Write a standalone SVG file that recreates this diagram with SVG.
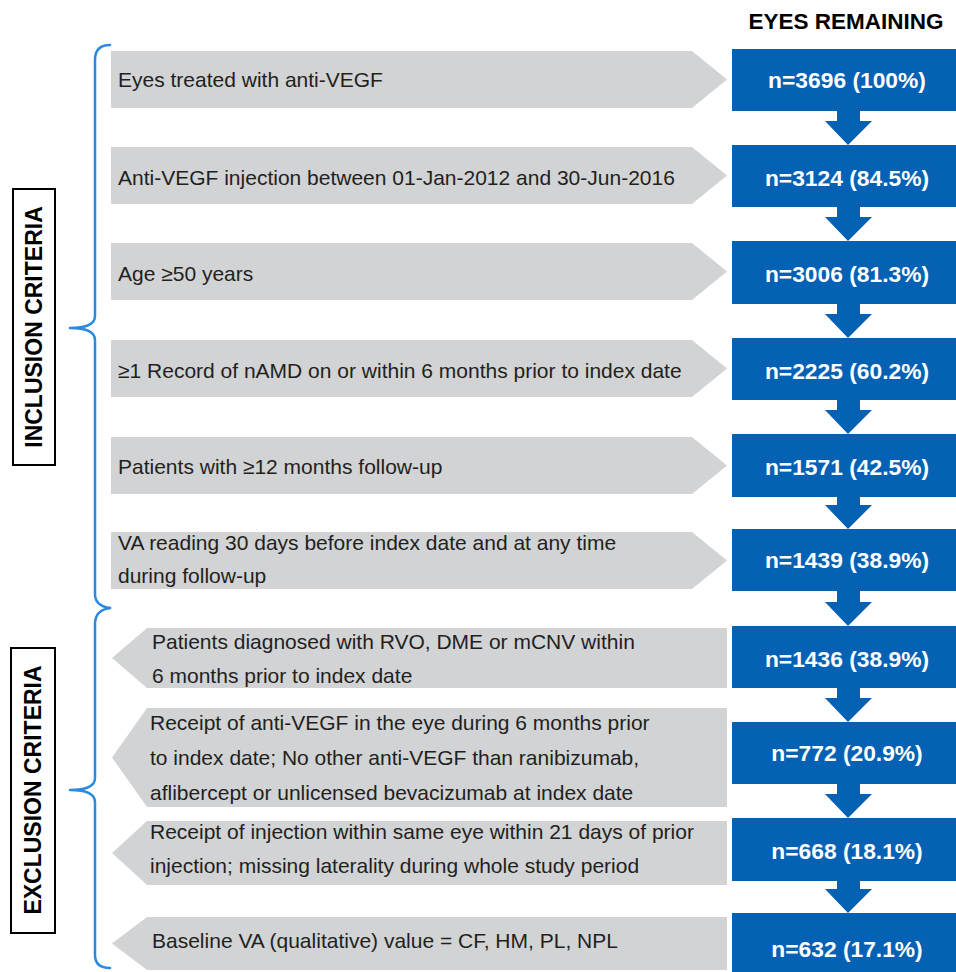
<svg xmlns="http://www.w3.org/2000/svg" width="956" height="972" viewBox="0 0 956 972">
<defs>
<style>
.g{fill:#d1d3d4}
.b{fill:#0561b3}
.t{font-family:"Liberation Sans",Arial,sans-serif;font-size:21px;fill:#231f20}
.n{font-family:"Liberation Sans",Arial,sans-serif;font-size:22.8px;font-weight:bold;fill:#ffffff;text-anchor:middle}
.h{font-family:"Liberation Sans",Arial,sans-serif;font-size:22.5px;font-weight:bold;fill:#000000;text-anchor:middle}
.lab{font-family:"Liberation Sans",Arial,sans-serif;font-size:23px;font-weight:bold;fill:#000000;text-anchor:middle}
.box{fill:#ffffff;stroke:#000000;stroke-width:2}
.br{fill:none;stroke:#2a8ae0;stroke-width:2.5;stroke-linejoin:round;stroke-linecap:round}
.ar{fill:#0561b3}
</style>
</defs>
<rect width="956" height="972" fill="#ffffff"/>
<text class="h" x="846" y="29">EYES REMAINING</text>

<g id="label-inclusion">
<rect class="box" x="13" y="189" width="42" height="276"/>
<text class="lab" transform="translate(42,327) rotate(-90)">INCLUSION CRITERIA</text>
</g>
<g id="label-exclusion">
<rect class="box" x="11" y="648" width="44" height="285"/>
<text class="lab" transform="translate(41,790) rotate(-90)">EXCLUSION CRITERIA</text>
</g>
<g id="braces">
<path class="br" d="M110,45 Q95,45 95,60 L95,316 Q95,328 70,328 Q95,328 95,340 L95,594 Q95,606 110,608"/>
<path class="br" d="M110,608 Q95,610 95,624 L95,778 Q95,790 70,790 Q95,790 95,802 L95,955 Q95,968 110,968"/>
</g>

<g id="inc1"><polygon class="g" points="111,51 692,51 727,79.5 692,108 111,108"/><text class="t" x="118" y="87">Eyes treated with anti-VEGF</text></g>
<g id="inc2"><polygon class="g" points="111,147 692,147 727,175.5 692,204 111,204"/><text class="t" x="118" y="185">Anti-VEGF injection between 01-Jan-2012 and 30-Jun-2016</text></g>
<g id="inc3"><polygon class="g" points="111,243 692,243 727,271.5 692,300 111,300"/><text class="t" x="118" y="281">Age ≥50 years</text></g>
<g id="inc4"><polygon class="g" points="111,340 692,340 727,368.5 692,397 111,397"/><text class="t" x="118" y="378">≥1 Record of nAMD on or within 6 months prior to index date</text></g>
<g id="inc5"><polygon class="g" points="111,437 692,437 727,465.5 692,494 111,494"/><text class="t" x="118" y="474">Patients with ≥12 months follow-up</text></g>
<g id="inc6"><polygon class="g" points="111,532 692,532 727,560.5 692,589 111,589"/><text class="t" x="118" y="550">VA reading 30 days before index date and at any time</text><text class="t" x="118" y="583">during follow-up</text></g>

<g id="exc1"><polygon class="g" points="147,628 727,628 727,688 147,688 112,658"/><text class="t" x="152" y="649">Patients diagnosed with RVO, DME or mCNV within</text><text class="t" x="152" y="683">6 months prior to index date</text></g>
<g id="exc2"><polygon class="g" points="147,708 727,708 727,807 147,807 112,757.5"/><text class="t" x="150" y="730">Receipt of anti-VEGF in the eye during 6 months prior</text><text class="t" x="150" y="765">to index date; No other anti-VEGF than ranibizumab,</text><text class="t" x="150" y="800">aflibercept or unlicensed bevacizumab at index date</text></g>
<g id="exc3"><polygon class="g" points="147,821 727,821 727,885 147,885 112,853"/><text class="t" x="150" y="839">Receipt of injection within same eye within 21 days of prior</text><text class="t" x="150" y="873">injection; missing laterality during whole study period</text></g>
<g id="exc4"><polygon class="g" points="147,917 727,917 727,970 147,970 112,943.5"/><text class="t" x="152" y="948">Baseline VA (qualitative) value = CF, HM, PL, NPL</text></g>

<g id="n1"><rect class="b" x="732" y="49" width="224" height="62"/><text class="n" x="847" y="88">n=3696 (100%)</text></g>
<g id="n2"><rect class="b" x="732" y="145" width="224" height="62"/><text class="n" x="847" y="186">n=3124 (84.5%)</text></g>
<g id="n3"><rect class="b" x="732" y="241" width="224" height="63"/><text class="n" x="847" y="282">n=3006 (81.3%)</text></g>
<g id="n4"><rect class="b" x="732" y="338" width="224" height="62"/><text class="n" x="847" y="379">n=2225 (60.2%)</text></g>
<g id="n5"><rect class="b" x="732" y="434" width="224" height="63"/><text class="n" x="847" y="475">n=1571 (42.5%)</text></g>
<g id="n6"><rect class="b" x="732" y="529" width="224" height="62"/><text class="n" x="847" y="568">n=1439 (38.9%)</text></g>
<g id="n7"><rect class="b" x="732" y="626" width="224" height="62"/><text class="n" x="847" y="667">n=1436 (38.9%)</text></g>
<g id="n8"><rect class="b" x="732" y="722" width="224" height="62"/><text class="n" x="847" y="761">n=772 (20.9%)</text></g>
<g id="n9"><rect class="b" x="732" y="818" width="224" height="63"/><text class="n" x="847" y="859">n=668 (18.1%)</text></g>
<g id="n10"><rect class="b" x="732" y="913" width="224" height="59"/><text class="n" x="847" y="957">n=632 (17.1%)</text></g>

<g id="connectors">
<path class="ar" d="M837,110 H860 V121 H872 L848,145 L825,121 H837 Z"/>
<path class="ar" d="M837,206 H860 V217 H872 L848,241 L825,217 H837 Z"/>
<path class="ar" d="M837,303 H860 V314 H872 L848,338 L825,314 H837 Z"/>
<path class="ar" d="M837,399 H860 V410 H872 L848,434 L825,410 H837 Z"/>
<path class="ar" d="M837,496 H860 V505 H872 L848,529 L825,505 H837 Z"/>
<path class="ar" d="M837,590 H860 V602 H872 L848,626 L825,602 H837 Z"/>
<path class="ar" d="M837,687 H860 V698 H872 L848,722 L825,698 H837 Z"/>
<path class="ar" d="M837,783 H860 V794 H872 L848,818 L825,794 H837 Z"/>
<path class="ar" d="M837,880 H860 V889 H872 L848,913 L825,889 H837 Z"/>
</g>
</svg>
